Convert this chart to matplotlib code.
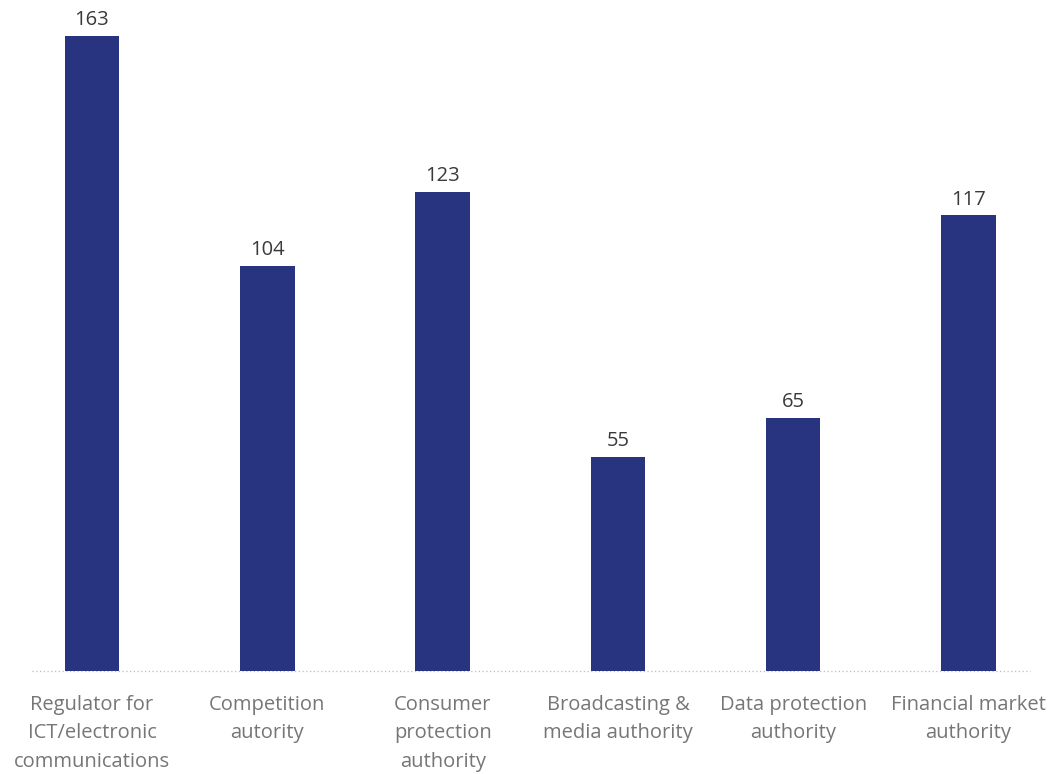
import matplotlib.pyplot as plt
import numpy as np

categories = [
    "Regulator for\nICT/electronic\ncommunications",
    "Competition\nautority",
    "Consumer\nprotection\nauthority",
    "Broadcasting &\nmedia authority",
    "Data protection\nauthority",
    "Financial market\nauthority",
]
values = [163, 104, 123, 55, 65, 117]

bar_color = "#283480"
plt.rcParams["font.family"] = ["Open Sans", "DejaVu Sans"]

fig = plt.figure(figsize=(10.55, 7.74), dpi=100)
ax = fig.add_axes([0, 103 / 774, 1, 671 / 774])

x = np.arange(len(categories))
bars = ax.bar(x, values, width=0.31, color=bar_color, zorder=2)

for xi, v in zip(x, values):
    ax.annotate(str(v), (xi, v), xytext=(0, 4), textcoords="offset points",
                ha="center", va="bottom", fontsize=14.5, color="#3a3a3a")

# dotted category baseline
ax.plot([-0.342, 5.351], [0, 0], linestyle=(0, (1, 2)), color="#bdbdbd",
        linewidth=0.9, zorder=1, clip_on=False)

ax.set_xlim(-0.525, 5.493)
ax.set_ylim(0, 172.2)
ax.set_xticks(x)
ax.set_xticklabels(categories, fontsize=14.5, color="#767676", linespacing=1.58)
ax.tick_params(axis="x", length=0, pad=17)
ax.set_yticks([])
for s in ax.spines.values():
    s.set_visible(False)

fig.savefig("out.png", dpi=100)
